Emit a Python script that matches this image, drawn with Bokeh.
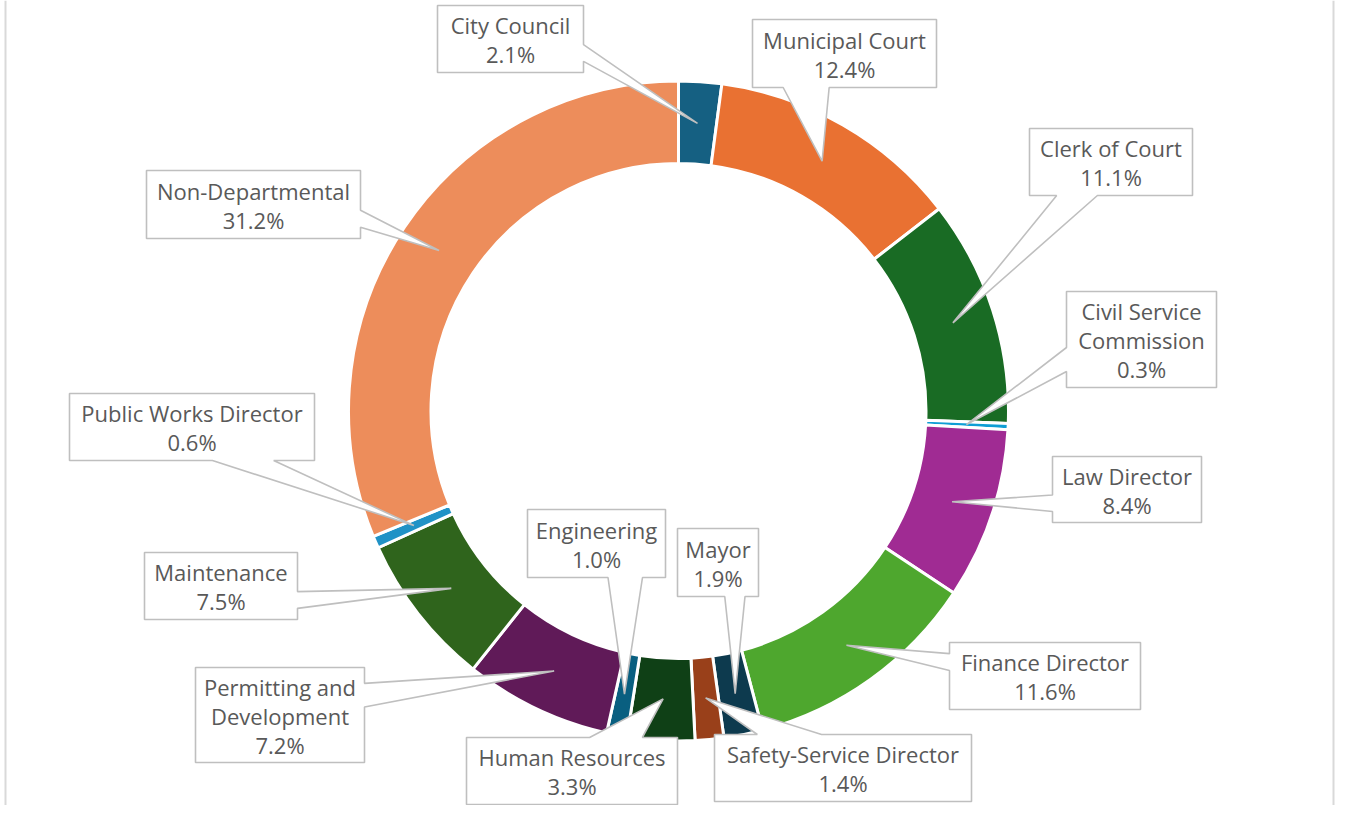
import math
from bokeh.plotting import figure
from bokeh.models import Range1d, ColumnDataSource
from bokeh.core.properties import value
from bokeh.embed import file_html
from bokeh.resources import INLINE

# ---------------- data ----------------
departments = ["City Council", "Municipal Court", "Clerk of Court", "Civil Service Commission",
               "Law Director", "Finance Director", "Mayor", "Safety-Service Director",
               "Human Resources", "Engineering", "Permitting and Development", "Maintenance",
               "Public Works Director", "Non-Departmental"]
shares = [2.1, 12.4, 11.1, 0.3, 8.4, 11.6, 1.9, 1.4, 3.3, 1.0, 7.2, 7.5, 0.6, 31.2]
label_lines = [["City Council"], ["Municipal Court"], ["Clerk of Court"], ["Civil Service", "Commission"],
               ["Law Director"], ["Finance Director"], ["Mayor"], ["Safety-Service Director"],
               ["Human Resources"], ["Engineering"], ["Permitting and", "Development"], ["Maintenance"],
               ["Public Works Director"], ["Non-Departmental"]]
colors = ["#156082", "#E97132", "#196B24", "#0F9ED5", "#A02B93", "#4EA72E", "#0D3A4E", "#99401A",
          "#0F4016", "#095F80", "#601A58", "#2F641C", "#2092C6", "#ED8D5B"]

# ---------------- layout (image pixels, y down) ----------------
boxes = [(437, 5, 583, 72), (752, 19, 936, 87), (1029, 128, 1192, 195), (1066, 291, 1216, 387),
         (1052, 456, 1201, 522), (949, 642, 1140, 709), (677, 528, 758, 596), (714, 734, 971, 801),
         (466, 737, 677, 804), (527, 509, 665, 577), (195, 667, 364, 762), (144, 552, 297, 619),
         (69, 393, 314, 460), (146, 170, 360, 238)]
CX, CY = 678, 410.5
R_OUT, R_IN = 330, 247.5
W, H = 1335, 805
LINE_SP = 29
TEXT_COLOR = "#595959"
BOX_COLOR = "#BFBFBF"
FONT = "Open Sans"
FONT_SIZE = "22px"

def fy(y):
    return H - y

p = figure(width=W, height=H, x_range=Range1d(0, W), y_range=Range1d(0, H),
           x_axis_type=None, y_axis_type=None, toolbar_location=None, output_backend="svg",
           min_border=0, background_fill_color="white", border_fill_color="white")
p.grid.visible = False
p.outline_line_color = None

# ---------------- donut ----------------
total = sum(shares)
starts, ends, mids = [], [], []
c = 0.0
for v in shares:
    c0 = c / total
    c += v
    c1 = c / total
    starts.append(math.pi / 2 - 2 * math.pi * c1)
    ends.append(math.pi / 2 - 2 * math.pi * c0)
    mids.append((c0 + c1) / 2)

src = ColumnDataSource(dict(x=[CX] * len(shares), y=[fy(CY)] * len(shares),
                            s=starts, e=ends, color=colors))
p.annular_wedge(x="x", y="y", inner_radius=R_IN, outer_radius=R_OUT, start_angle="s", end_angle="e",
                fill_color="color", line_color="white", line_width=3, source=src)

# ---------------- callouts ----------------
def callout(l, t, r, b, tx, ty):
    w = r - l
    h = b - t
    hc = (l + r) / 2
    vc = (t + b) / 2
    dx = tx - hc
    dy = ty - vc
    dq = dx * h / w
    dz = abs(dy) - abs(dq)
    x1 = l + w * (7 / 12 if dx > 0 else 2 / 12)
    x2 = l + w * (10 / 12 if dx > 0 else 5 / 12)
    y1 = t + h * (7 / 12 if dy > 0 else 2 / 12)
    y2 = t + h * (10 / 12 if dy > 0 else 5 / 12)
    pts = [(l, t)]
    if dz > 0 and dy < 0:
        pts += [(x1, t), (tx, ty), (x2, t)]
    pts.append((r, t))
    if dz <= 0 and dx > 0:
        pts += [(r, y1), (tx, ty), (r, y2)]
    pts.append((r, b))
    if dz > 0 and dy > 0:
        pts += [(x2, b), (tx, ty), (x1, b)]
    pts.append((l, b))
    if dz <= 0 and dx < 0:
        pts += [(l, y2), (tx, ty), (l, y1)]
    return [q[0] for q in pts], [fy(q[1]) for q in pts]

pxs, pys = [], []
tx_all, ty_all, tt_all = [], [], []
r_mid = (R_IN + R_OUT) / 2 - 0.5
for i, name in enumerate(departments):
    ang = 2 * math.pi * mids[i]
    tx = CX + r_mid * math.sin(ang)
    ty = CY - r_mid * math.cos(ang)
    l, t, r, b = boxes[i]
    xs, ys = callout(l, t, r, b, tx, ty)
    pxs.append(xs)
    pys.append(ys)
    lines = label_lines[i] + [f"{shares[i]:.1f}%"]
    n = len(lines)
    vc = (t + b) / 2
    for k, ln in enumerate(lines):
        tx_all.append((l + r) / 2)
        ty_all.append(fy(vc + (k - (n - 1) / 2) * LINE_SP + 0.5))
        tt_all.append(ln)

p.patches(xs=pxs, ys=pys, fill_color="white", line_color=BOX_COLOR, line_width=1.6)
p.text(x=tx_all, y=ty_all, text=tt_all, text_align="center", text_baseline="middle",
       text_font=value(FONT), text_font_size=FONT_SIZE, text_color=TEXT_COLOR)

# chart border (visible left/right edges)
p.segment(x0=[5, 1333], y0=[fy(0), fy(0)], x1=[5, 1333], y1=[fy(H), fy(H)],
          line_color="#D9D9D9", line_width=2)

open("out.html", "w").write(file_html(p, INLINE))
